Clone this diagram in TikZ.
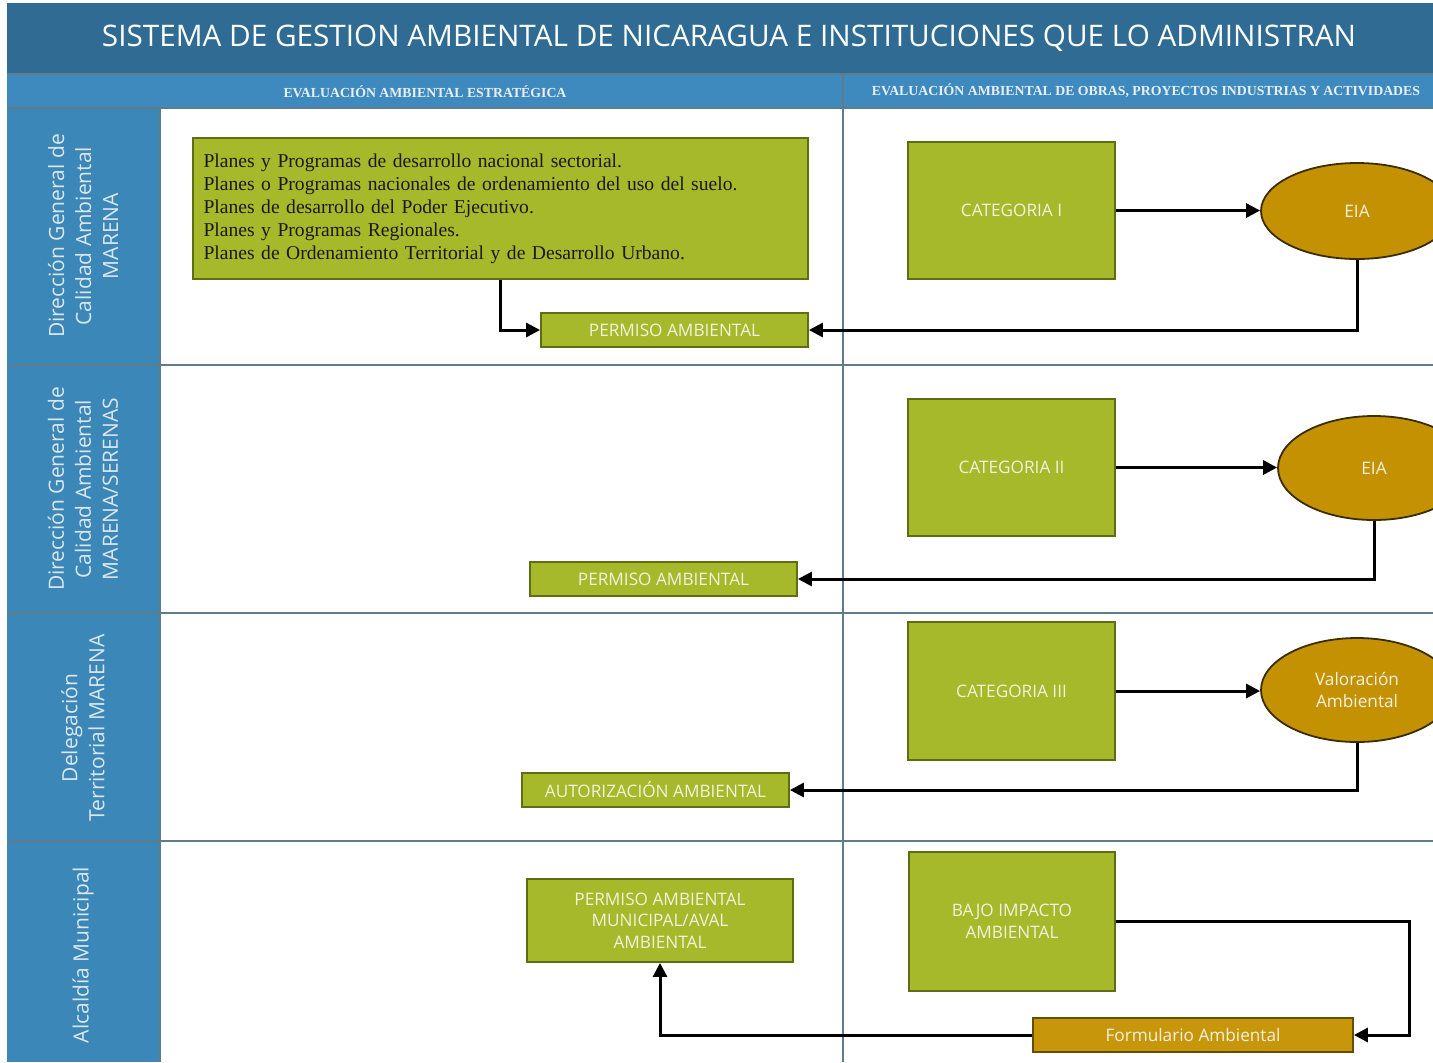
\documentclass[tikz,border=0pt]{standalone}
\usepackage{fontspec}
\setmainfont{Open Sans}
\newfontfamily\serifhdr{Liberation Serif}
\usetikzlibrary{arrows.meta,shapes.geometric}
\definecolor{titlebg}{HTML}{2F6B93}
\definecolor{hdrbg}{HTML}{3E8ABF}
\definecolor{lanebg}{HTML}{3A87B8}
\definecolor{gridln}{HTML}{5E7C8C}
\definecolor{boxgreen}{HTML}{A6B92A}
\definecolor{boxgreenbd}{HTML}{5F6E14}
\definecolor{gold}{HTML}{C49102}
\definecolor{golddk}{HTML}{3A2E00}
\definecolor{formgold}{HTML}{C8960A}
\definecolor{boxtxt}{HTML}{F2F2DE}
\definecolor{lanetxt}{HTML}{DCE6EF}
\definecolor{hdrtxt}{HTML}{E8EEF2}
\begin{document}
\begin{tikzpicture}[x=0.5pt,y=-0.5pt,
  gbox/.style={draw=boxgreenbd,line width=0.9pt,fill=boxgreen,inner sep=0pt,
    text=boxtxt,font=\fontsize{8.6}{10.8}\selectfont,align=center},
  ebox/.style={ellipse,draw=golddk,line width=0.9pt,fill=gold,inner sep=0pt,
    text=boxtxt,font=\fontsize{8.6}{10.8}\selectfont,align=center},
  fbox/.style={draw=golddk!70!formgold,line width=0.9pt,fill=formgold,inner sep=0pt,
    text=boxtxt,font=\fontsize{8.6}{10.8}\selectfont,align=center},
  arr/.style={line width=1.5pt,-{Triangle[length=7pt,width=7pt]}},
  lanelbl/.style={rotate=90,text=lanetxt,font=\fontsize{10.5}{13.5}\selectfont,align=center},
  hdrlbl/.style={text=hdrtxt,font=\serifhdr\bfseries\fontsize{6.9}{8}\selectfont}]
\useasboundingbox (0,0) rectangle (1433,1062);
\clip (0,0) rectangle (1433,1062);
% backgrounds
\fill[white] (0,0) rectangle (1433,1062);
\fill[titlebg] (7,3) rectangle (1433,74);
\fill[hdrbg] (7,74) rectangle (1433,108);
\fill[lanebg] (7,108) rectangle (160,1062);
% grid lines
\draw[gridln,line width=1pt] (7,74) -- (1433,74);
\draw[gridln,line width=0.8pt] (7,108) -- (1433,108);
\draw[gridln,line width=0.8pt] (7,365) -- (1433,365);
\draw[gridln,line width=0.8pt] (7,613) -- (1433,613);
\draw[gridln,line width=0.8pt] (7,841) -- (1433,841);
\draw[gridln,line width=0.8pt] (843,74) -- (843,1062);
\draw[gridln,line width=0.8pt] (160,108) -- (160,1062);
% titles
\node[text=white,font=\fontsize{14.85}{18}\selectfont] (title) at (729,38)
  {SISTEMA DE GESTION AMBIENTAL DE NICARAGUA E INSTITUCIONES QUE LO ADMINISTRAN};
\node[hdrlbl] (h1) at (425,92) {EVALUACIÓN AMBIENTAL ESTRATÉGICA};
\node[hdrlbl] (h2) at (1146,91) {EVALUACIÓN AMBIENTAL DE OBRAS, PROYECTOS INDUSTRIAS Y ACTIVIDADES};
% lane labels
\node[lanelbl] (l1) at (83,236) {Dirección General de\\Calidad Ambiental\\MARENA};
\node[lanelbl] (l2) at (83,489) {Dirección General de\\Calidad Ambiental\\MARENA/SERENAS};
\node[lanelbl] (l3) at (83,728) {Delegación\\Territorial MARENA};
\node[lanelbl] (l4) at (83,955) {Alcaldía Municipal};
% lane 1
\node[gbox,minimum width=307.5pt,minimum height=70.5pt,text=black!90,
  font=\serifhdr\fontsize{9.8}{11.5}\selectfont,align=left,text width=297pt] (plans) at (500.5,208.5)
  {Planes y Programas de desarrollo nacional sectorial.\\
   Planes o Programas nacionales de ordenamiento del uso del suelo.\\
   Planes de desarrollo del Poder Ejecutivo.\\
   Planes y Programas Regionales.\\
   Planes de Ordenamiento Territorial y de Desarrollo Urbano.};
\node[gbox,minimum width=133.5pt,minimum height=17pt] (p1) at (674.5,330) {PERMISO AMBIENTAL};
\node[gbox,minimum width=103.5pt,minimum height=68.5pt] (cat1) at (1011.5,210.5) {CATEGORIA I};
\node[ebox,minimum width=96pt,minimum height=48pt] (eia1) at (1357,211) {EIA};
% lane 2
\node[gbox,minimum width=103.5pt,minimum height=68.5pt] (cat2) at (1011.5,467.5) {CATEGORIA II};
\node[ebox,minimum width=96pt,minimum height=52pt] (eia2) at (1374,468) {EIA};
\node[gbox,minimum width=133.5pt,minimum height=17pt] (p2) at (663.5,579) {PERMISO AMBIENTAL};
% lane 3
\node[gbox,minimum width=103.5pt,minimum height=69pt] (cat3) at (1011.5,691) {CATEGORIA III};
\node[ebox,minimum width=96pt,minimum height=52pt] (val) at (1357,690) {Valoración\\Ambiental};
\node[gbox,minimum width=133.5pt,minimum height=17pt] (aut) at (655.5,790) {AUTORIZACIÓN AMBIENTAL};
% lane 4
\node[gbox,minimum width=133pt,minimum height=41.5pt] (muni) at (660,920.5) {PERMISO AMBIENTAL\\MUNICIPAL/AVAL\\AMBIENTAL};
\node[gbox,minimum width=103pt,minimum height=69.5pt] (bajo) at (1012,921.5) {BAJO IMPACTO\\AMBIENTAL};
\node[fbox,minimum width=160pt,minimum height=17pt] (form) at (1193,1035) {Formulario Ambiental};
\coordinate (rt) at (1409,0);
% connectors
\draw[arr] (plans.south) |- (p1.west);
\draw[arr] (cat1.east) -- (cat1.east -| eia1.west);
\draw[arr] (eia1.south) |- (p1.east);
\draw[arr] (cat2.east) -- (cat2.east -| eia2.west);
\draw[arr] (eia2.south) |- (p2.east);
\draw[arr] (cat3.east) -- (cat3.east -| val.west);
\draw[arr] (val.south) |- (aut.east);
\draw[arr] (bajo.east) -- (bajo.east -| rt) |- (form.east);
\draw[arr] (form.west) -| (muni.south);
\end{tikzpicture}
\end{document}
